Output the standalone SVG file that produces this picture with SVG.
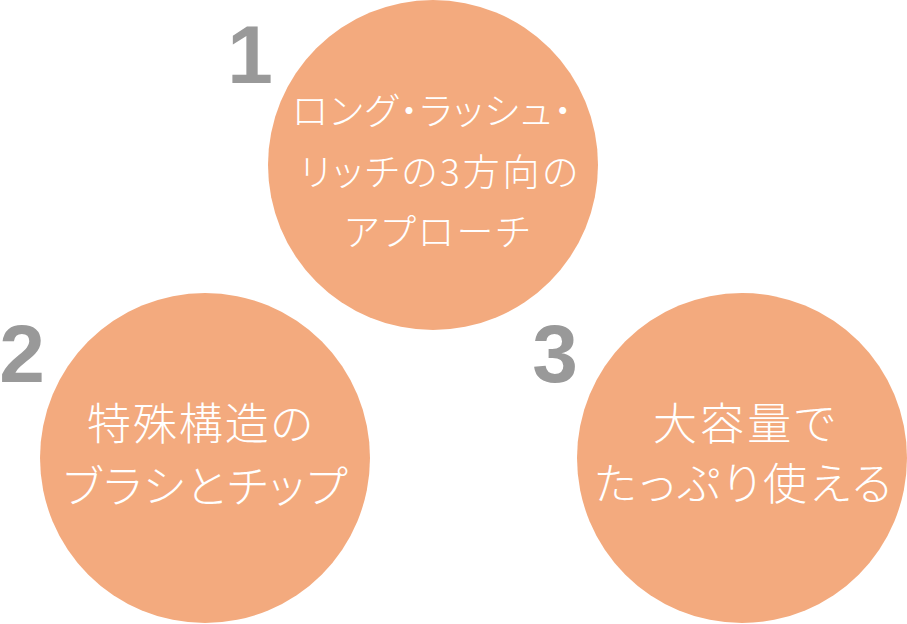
<svg xmlns="http://www.w3.org/2000/svg" width="907" height="624" viewBox="0 0 907 624">
<style>
.c{fill:#F3AA7E}
.n{fill:#999999;font-family:"Liberation Sans",Arial,sans-serif;font-weight:bold;font-size:82px;text-anchor:middle}
.t{fill:#FFFFFF;font-family:"Noto Sans CJK JP","Noto Sans CJK SC",sans-serif;font-weight:300;text-anchor:middle;font-feature-settings:"palt"}
</style>
<rect width="907" height="624" fill="#FFFFFF"/>
<g id="node1">
<circle class="c" cx="433" cy="165" r="165"/>
<text class="n" x="250" y="83">1</text>
<text class="t" font-size="37" x="432" y="125" textLength="280" lengthAdjust="spacing">ロング・ラッシュ・</text>
<text class="t" font-size="37" x="439" y="186" textLength="278" lengthAdjust="spacing">リッチの3方向の</text>
<text class="t" font-size="37" x="437" y="246" textLength="185" lengthAdjust="spacing">アプローチ</text>
</g>
<g id="node2">
<circle class="c" cx="205" cy="458" r="165"/>
<text class="n" x="22" y="382">2</text>
<text class="t" font-size="44" x="200" y="440" textLength="226" lengthAdjust="spacing">特殊構造の</text>
<text class="t" font-size="44" x="205" y="503" textLength="284" lengthAdjust="spacing">ブラシとチップ</text>
</g>
<g id="node3">
<circle class="c" cx="742" cy="458" r="165"/>
<text class="n" x="555" y="382">3</text>
<text class="t" font-size="44" x="744" y="440" textLength="182" lengthAdjust="spacing">大容量で</text>
<text class="t" font-size="44" x="743" y="500" textLength="297" lengthAdjust="spacing">たっぷり使える</text>
</g>
<g id="connectors"></g>
</svg>
